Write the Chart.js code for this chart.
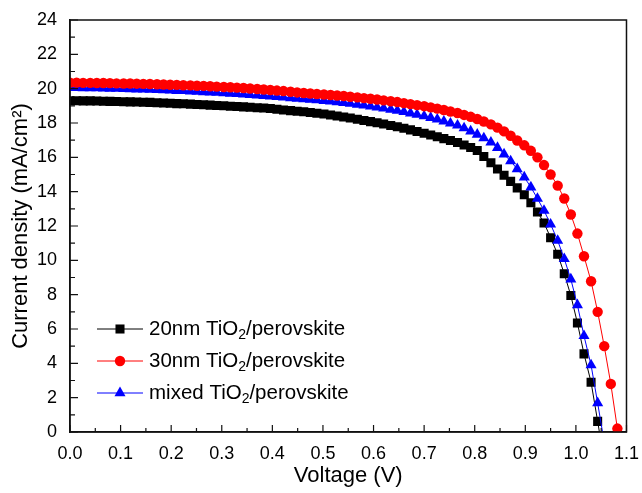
<!DOCTYPE html>
<html>
<head>
<meta charset="utf-8">
<script src="https://cdn.jsdelivr.net/npm/chart.js@4"></script>
<style>
  html, body { margin: 0; padding: 0; background: #fff; }
  #wrap { width: 642px; height: 493px; }
</style>
</head>
<body>
<div id="wrap"><canvas id="jvChart" width="642" height="493"></canvas></div>
<script>
//voltage points (V), same sweep for all three cells
const volts = [
  0.000, 0.013, 0.026, 0.040, 0.053, 0.066, 0.079, 0.092, 0.106, 0.119,
  0.132, 0.145, 0.158, 0.172, 0.185, 0.198, 0.211, 0.224, 0.238, 0.251,
  0.264, 0.277, 0.290, 0.304, 0.317, 0.330, 0.343, 0.356, 0.370, 0.383,
  0.396, 0.409, 0.422, 0.436, 0.449, 0.462, 0.475, 0.488, 0.502, 0.515,
  0.528, 0.541, 0.554, 0.568, 0.581, 0.594, 0.607, 0.620, 0.634, 0.647,
  0.660, 0.673, 0.686, 0.700, 0.713, 0.726, 0.739, 0.752, 0.766, 0.779,
  0.792, 0.805, 0.818, 0.832, 0.845, 0.858, 0.871, 0.884, 0.898, 0.911,
  0.924, 0.937, 0.950, 0.964, 0.977, 0.990, 1.003, 1.016, 1.030, 1.043,
  1.056, 1.069, 1.082
];

//current density (mA/cm2) for each film
const j20nm = [
  19.30, 19.30, 19.29, 19.29, 19.28, 19.27, 19.26, 19.25, 19.24, 19.23,
  19.22, 19.21, 19.20, 19.18, 19.17, 19.15, 19.13, 19.12, 19.10, 19.08,
  19.06, 19.04, 19.02, 19.00, 18.98, 18.96, 18.94, 18.92, 18.89, 18.87,
  18.84, 18.80, 18.76, 18.72, 18.68, 18.65, 18.61, 18.57, 18.52, 18.47,
  18.41, 18.35, 18.29, 18.22, 18.15, 18.08, 18.01, 17.94, 17.86, 17.78,
  17.69, 17.60, 17.50, 17.40, 17.30, 17.20, 17.09, 16.98, 16.86, 16.72,
  16.57, 16.40, 16.05, 15.68, 15.32, 14.96, 14.60, 14.22, 13.82, 13.35,
  12.82, 12.18, 11.32, 10.35, 9.22, 7.95, 6.35, 4.55, 2.90, 0.62,
  -1.70
];
const j30nm = [
  20.35, 20.35, 20.34, 20.34, 20.33, 20.33, 20.32, 20.31, 20.30, 20.30,
  20.29, 20.28, 20.27, 20.26, 20.24, 20.23, 20.22, 20.20, 20.19, 20.17,
  20.16, 20.14, 20.12, 20.10, 20.08, 20.06, 20.04, 20.01, 19.98, 19.95,
  19.92, 19.89, 19.86, 19.82, 19.78, 19.75, 19.72, 19.69, 19.66, 19.63,
  19.60, 19.57, 19.53, 19.49, 19.45, 19.41, 19.37, 19.32, 19.27, 19.22,
  19.16, 19.10, 19.04, 18.98, 18.91, 18.84, 18.76, 18.67, 18.58, 18.47,
  18.36, 18.23, 18.09, 17.92, 17.73, 17.51, 17.26, 16.98, 16.70, 16.38,
  16.00, 15.55, 15.00, 14.35, 13.60, 12.67, 11.56, 10.24, 8.78, 7.00,
  5.00, 2.80, 0.20
];
const jMixed = [
  20.05, 20.05, 20.04, 20.04, 20.03, 20.02, 20.01, 20.00, 19.99, 19.98,
  19.97, 19.96, 19.95, 19.93, 19.92, 19.90, 19.88, 19.87, 19.85, 19.83,
  19.81, 19.79, 19.77, 19.75, 19.72, 19.70, 19.67, 19.64, 19.61, 19.58,
  19.55, 19.52, 19.49, 19.46, 19.43, 19.40, 19.37, 19.33, 19.30, 19.26,
  19.22, 19.18, 19.13, 19.08, 19.03, 18.97, 18.91, 18.85, 18.79, 18.72,
  18.65, 18.57, 18.49, 18.40, 18.31, 18.21, 18.10, 17.98, 17.86, 17.70,
  17.52, 17.33, 17.12, 16.87, 16.56, 16.18, 15.78, 15.32, 14.84, 14.26,
  13.60, 12.90, 12.10, 11.15, 10.09, 8.90, 7.40, 5.60, 3.90, 1.69,
  -0.60
];

const xTicks = [0, 1.1, 0.1];   //min, max, step
const yTicks = [0, 24, 2];

const seriesInfo = [
  {pre: '20nm TiO', post: '/perovskite', data: j20nm, color: '#000000', style: 'rect', radius: 6.4},
  {pre: '30nm TiO', post: '/perovskite', data: j30nm, color: '#ff0000', style: 'circle', radius: 5.2},
  {pre: 'mixed TiO', post: '/perovskite', data: jMixed, color: '#0000ff', style: 'triangle', radius: 6.4}
];
const drawOrder = [2, 0, 1]; //red on top, then blue, black at bottom

const fontFam = 'Arial, "Liberation Sans", sans-serif';
Chart.defaults.font.family = fontFam;
Chart.defaults.color = '#000';

//frame on all four sides plus inward tick marks, and the boxed-in legend
const framePlugin = {
  id: 'frame',
  afterDraw(chart) {
    const c = chart.ctx;
    const a = chart.chartArea;
    const xs = chart.scales.x, ys = chart.scales.y;
    c.save();
    c.strokeStyle = '#111';
    c.lineWidth = 1.5;
    c.strokeRect(a.left, a.top, a.right - a.left, a.bottom - a.top);
    c.lineWidth = 1.2;
    c.beginPath();
    for (let k = 0; k <= 22; k++) { //x ticks every 0.05
      const px = xs.getPixelForValue(k * 0.05);
      const len = k % 2 === 0 ? 7 : 4;
      c.moveTo(px, a.bottom); c.lineTo(px, a.bottom - len);
    }
    for (let k = 0; k <= 24; k++) { //y ticks every 1
      const py = ys.getPixelForValue(k);
      const len = k % 2 === 0 ? 8 : 5;
      c.moveTo(a.left, py); c.lineTo(a.left + len, py);
    }
    c.stroke();

    //legend
    seriesInfo.forEach((s, k) => {
      const y = 329 + k * 32;
      c.strokeStyle = s.color;
      c.lineWidth = 1;
      c.beginPath(); c.moveTo(97, y); c.lineTo(143, y); c.stroke();
      c.fillStyle = s.color;
      Chart.helpers.drawPoint(c, {pointStyle: s.style, radius: s.radius, rotation: 0, borderWidth: 0}, 120, y);
      c.fillStyle = '#000';
      c.textBaseline = 'middle';
      c.textAlign = 'left';
      c.font = '20.5px ' + fontFam;
      let x = 149;
      c.fillText(s.pre, x, y);
      x += c.measureText(s.pre).width;
      c.font = '14px ' + fontFam;
      c.fillText('2', x, y + 6);
      x += c.measureText('2').width;
      c.font = '20.5px ' + fontFam;
      c.fillText(s.post, x, y);
    });
    c.restore();
  }
};

const ctx = document.getElementById('jvChart');
new Chart(ctx, {
  type: 'line',
  data: {
    datasets: seriesInfo.map((s, k) => ({
      label: s.pre + '2' + s.post,
      data: s.data.map((j, i) => ({x: volts[i], y: j})),
      borderColor: s.color,
      backgroundColor: s.color,
      borderWidth: 1,
      pointStyle: s.style,
      pointRadius: s.radius,
      pointBorderWidth: 0,
      pointHoverRadius: s.radius,
      tension: 0,
      order: drawOrder[k]
    }))
  },
  options: {
    responsive: false,
    animation: false,
    layout: {padding: {left: 0, top: 20, right: 10, bottom: 0}},
    plugins: {legend: {display: false}, tooltip: {enabled: false}},
    scales: {
      x: {
        type: 'linear',
        min: xTicks[0], max: xTicks[1],
        grid: {display: false},
        border: {display: true, color: '#111', width: 1.5},
        ticks: {stepSize: xTicks[2], padding: 3, font: {size: 18}, callback: v => v.toFixed(1)},
        title: {display: true, text: 'Voltage (V)', font: {size: 22}, padding: {top: 0, bottom: 4}},
        afterFit: s => { s.height = 61; }
      },
      y: {
        min: yTicks[0], max: yTicks[1],
        grid: {display: false},
        border: {display: true, color: '#111', width: 1.5},
        ticks: {stepSize: yTicks[2], padding: 5, font: {size: 18}},
        title: {display: true, text: 'Current density (mA/cm²)', font: {size: 22}, padding: {top: 8, bottom: 0}},
        afterFit: s => { s.width = 70; }
      }
    }
  },
  plugins: [framePlugin]
});
</script>
</body>
</html>
